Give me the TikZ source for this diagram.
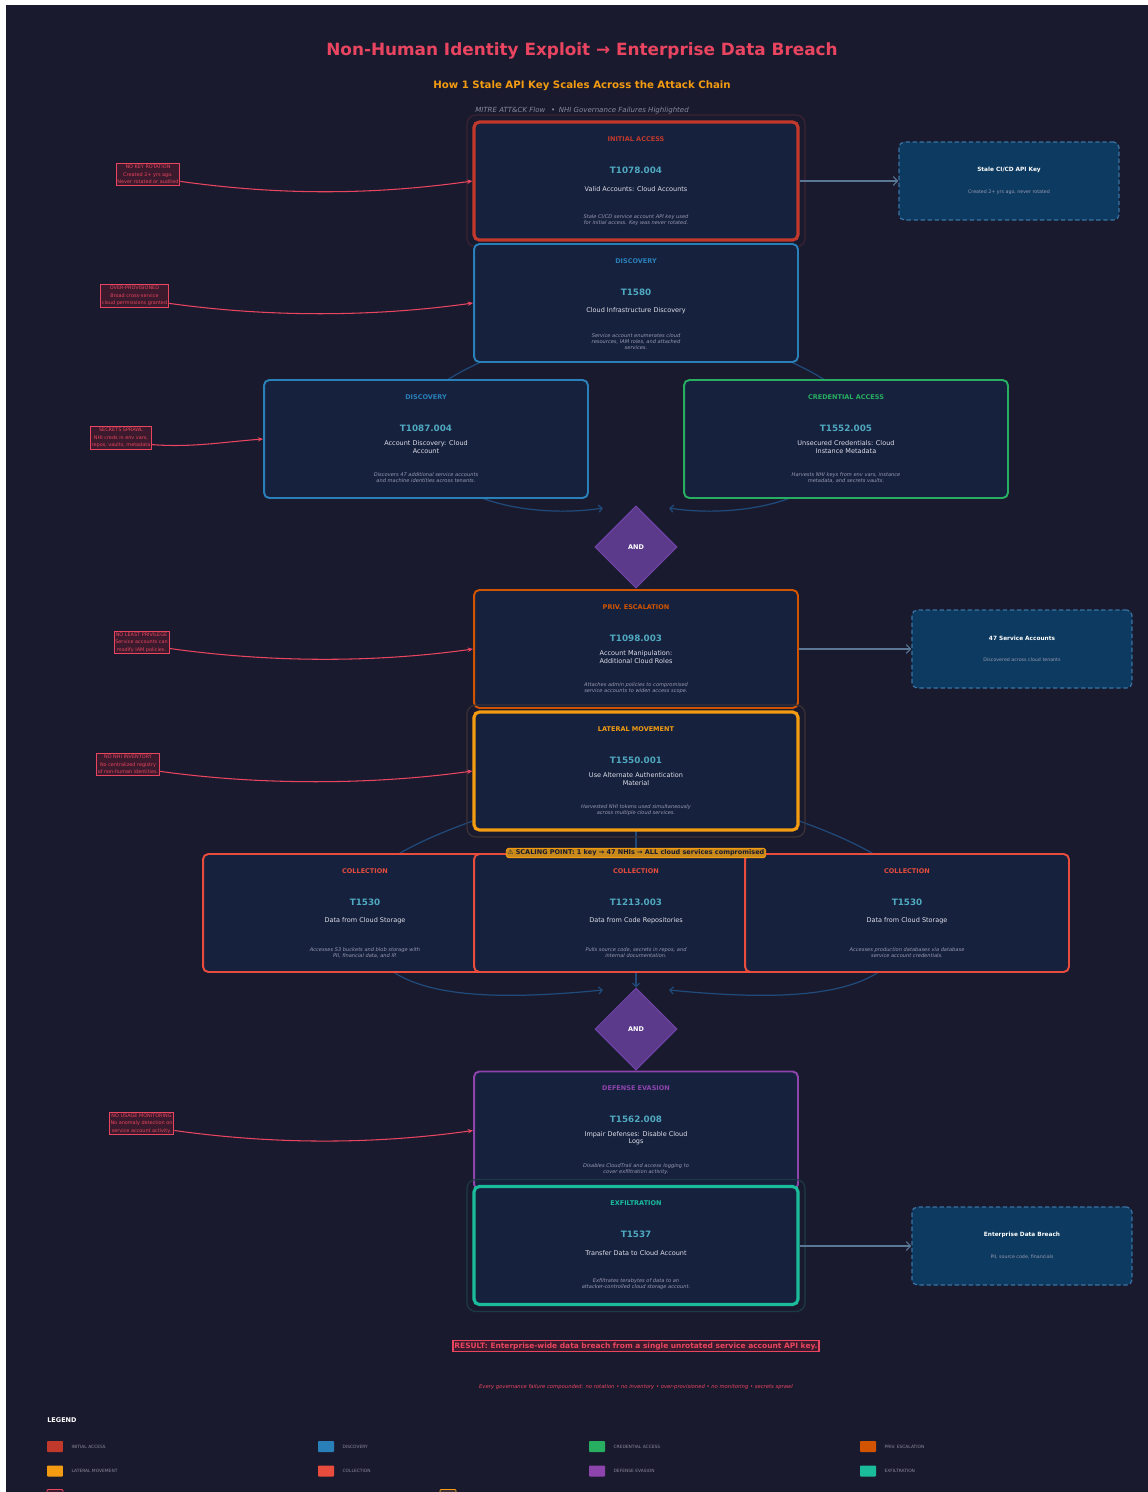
\documentclass[tikz,border=0pt]{standalone}
\usepackage{fontspec}
\setmainfont{DejaVu Sans}
\usepackage{tikz}
\usetikzlibrary{positioning, arrows.meta, shapes.geometric}
\pgfdeclarelayer{background}
\pgfsetlayers{background,main}
\definecolor{pagebg}{HTML}{1A1A2E}
\definecolor{cardbg}{HTML}{16213E}
\definecolor{hotpink}{HTML}{E94560}
\definecolor{amber}{HTML}{F39C12}
\definecolor{tacinit}{HTML}{C0392B}
\definecolor{tacdisc}{HTML}{2980B9}
\definecolor{taccred}{HTML}{27AE60}
\definecolor{tacpriv}{HTML}{D35400}
\definecolor{taclat}{HTML}{F39C12}
\definecolor{taccoll}{HTML}{E74C3C}
\definecolor{tacdef}{HTML}{8E44AD}
\definecolor{tacexf}{HTML}{1ABC9C}
\definecolor{techid}{HTML}{4FA8BF}
\definecolor{techname}{HTML}{E0E0E8}
\definecolor{techdesc}{HTML}{9A9AB0}
\definecolor{assetfill}{HTML}{0C3A60}
\definecolor{assetline}{HTML}{3A73A3}
\definecolor{flawfill}{HTML}{3A1A2C}
\definecolor{flowblue}{HTML}{1F4A7A}
\definecolor{andfill}{HTML}{5B3A8C}
\definecolor{andline}{HTML}{6E44A6}
\definecolor{sidearrow}{HTML}{5A7896}
\definecolor{legendgray}{HTML}{8A8A9A}
\definecolor{metagray}{HTML}{8A8AA0}
\definecolor{halored}{HTML}{3B2233}
\definecolor{halogold}{HTML}{3A3236}
\definecolor{haloteal}{HTML}{1D3B44}
\definecolor{badgefill}{HTML}{C98A1C}

\begin{document}
\begin{tikzpicture}[x=0.02cm, y=-0.02cm,
    stage/.style={draw, rounded corners=3pt, fill=cardbg, line width=1.1pt,
                  minimum width=6.48cm, minimum height=2.36cm},
    keystage/.style={stage, line width=1.8pt},
    halo/.style={draw, rounded corners=5pt, line width=0.7pt,
                 minimum width=6.76cm, minimum height=2.64cm},
    tactic/.style={font=\fontsize{3.7}{4.4}\selectfont\bfseries, inner sep=0pt},
    idtext/.style={font=\fontsize{5}{6}\selectfont\bfseries, text=techid, inner sep=0pt},
    nametext/.style={font=\fontsize{3.7}{4.1}\selectfont, text=techname, align=center, inner sep=0pt},
    desctext/.style={font=\fontsize{2.9}{3.4}\selectfont\itshape, text=techdesc, align=center, inner sep=0pt},
    asset/.style={draw=assetline, dash pattern=on 2.5pt off 1.5pt, fill=assetfill, rounded corners=3pt,
                  line width=0.7pt, minimum width=4.4cm, minimum height=1.56cm},
    assettitle/.style={font=\fontsize{3.3}{4}\selectfont\bfseries, text=white, inner sep=0pt},
    assetnote/.style={font=\fontsize{2.7}{3.2}\selectfont, text=techdesc, inner sep=0pt},
    flaw/.style={draw=hotpink, fill=flawfill, text=hotpink, line width=0.5pt, align=center,
                 font=\fontsize{2.8}{4.2}\selectfont, inner sep=0.8pt},
    flawlink/.style={draw=hotpink, line width=0.6pt, -{Stealth[length=3pt, width=2.5pt]}},
    flow/.style={draw=flowblue, line width=0.7pt, -{Straight Barb[length=2pt]}},
    feed/.style={draw=sidearrow, line width=0.6pt, -{Straight Barb[length=2.5pt]}},
    andgate/.style={diamond, draw=andline, fill=andfill, line width=0.6pt, minimum width=1.64cm,
                    minimum height=1.64cm, inner sep=0pt, text=white, font=\fontsize{3.7}{4.4}\selectfont\bfseries},
    swatch/.style={minimum width=0.32cm, minimum height=0.22cm, inner sep=0pt, rounded corners=0.5pt},
    legtext/.style={font=\fontsize{2.5}{3}\selectfont, text=legendgray, inner sep=0pt}
  ]
  \useasboundingbox (0,0) rectangle (1148,1492);
  \begin{pgfonlayer}{background}
    \fill[white] (0,0) rectangle (1148,1492);
    \fill[pagebg] (6,5) rectangle (1148,1492);
  \end{pgfonlayer}

  % header
  \node[font=\fontsize{9.6}{11}\selectfont\bfseries, text=hotpink] (title) at (582,51)
    {Non-Human Identity Exploit → Enterprise Data Breach};
  \node[font=\fontsize{5.8}{7}\selectfont\bfseries, text=amber] (subtitle) at (582,86)
    {How 1 Stale API Key Scales Across the Attack Chain};
  \node[font=\fontsize{4}{5}\selectfont\itshape, text=metagray] (meta) at (582,111)
    {MITRE ATT\&CK Flow \enspace•\enspace NHI Governance Failures Highlighted};

  % initial access
  \node[halo, draw=halored] (ia-halo) at (636,181) {};
  \node[keystage, draw=tacinit] (ia) at (636,181) {};
  \node[tactic, text=tacinit] (ia-tac) at (636,139) {INITIAL ACCESS};
  \node[idtext] (ia-id) at (636,170) {T1078.004};
  \node[nametext] (ia-name) at (636,189) {Valid Accounts: Cloud Accounts};
  \node[desctext] (ia-desc) at (636,220) {Stale CI/CD service account API key used\\for initial access. Key was never rotated.};

  % discovery 1
  \node[stage, draw=tacdisc] (disc1) at (636,303) {};
  \node[tactic, text=tacdisc] (disc1-tac) at (636,261) {DISCOVERY};
  \node[idtext] (disc1-id) at (636,292) {T1580};
  \node[nametext] (disc1-name) at (636,311) {Cloud Infrastructure Discovery};
  \node[desctext] (disc1-desc) at (636,342) {Service account enumerates cloud\\resources, IAM roles, and attached\\services.};

  % discovery 2 + credential access
  \node[stage, draw=tacdisc] (disc2) at (426,439) {};
  \node[tactic, text=tacdisc] (disc2-tac) at (426,397) {DISCOVERY};
  \node[idtext] (disc2-id) at (426,428) {T1087.004};
  \node[nametext] (disc2-name) at (426,447) {Account Discovery: Cloud\\Account};
  \node[desctext] (disc2-desc) at (426,478) {Discovers 47 additional service accounts\\and machine identities across tenants.};

  \node[stage, draw=taccred] (cred) at (846,439) {};
  \node[tactic, text=taccred] (cred-tac) at (846,397) {CREDENTIAL ACCESS};
  \node[idtext] (cred-id) at (846,428) {T1552.005};
  \node[nametext] (cred-name) at (846,447) {Unsecured Credentials: Cloud\\Instance Metadata};
  \node[desctext] (cred-desc) at (846,478) {Harvests NHI keys from env vars, instance\\metadata, and secrets vaults.};

  \node[andgate] (and1) at (636,547) {AND};
  \coordinate (and1-l) at (603,508);
  \coordinate (and1-r) at (669,508);

  % privilege escalation
  \node[stage, draw=tacpriv] (priv) at (636,649) {};
  \node[tactic, text=tacpriv] (priv-tac) at (636,607) {PRIV. ESCALATION};
  \node[idtext] (priv-id) at (636,638) {T1098.003};
  \node[nametext] (priv-name) at (636,657) {Account Manipulation:\\Additional Cloud Roles};
  \node[desctext] (priv-desc) at (636,688) {Attaches admin policies to compromised\\service accounts to widen access scope.};

  % lateral movement
  \node[halo, draw=halogold] (lat-halo) at (636,771) {};
  \node[keystage, draw=taclat] (lat) at (636,771) {};
  \node[tactic, text=taclat] (lat-tac) at (636,729) {LATERAL MOVEMENT};
  \node[idtext] (lat-id) at (636,760) {T1550.001};
  \node[nametext] (lat-name) at (636,779) {Use Alternate Authentication\\Material};
  \node[desctext] (lat-desc) at (636,810) {Harvested NHI tokens used simultaneously\\across multiple cloud services.};

  % collection
  \node[stage, draw=taccoll] (coll1) at (365,913) {};
  \node[tactic, text=taccoll] (coll1-tac) at (365,871) {COLLECTION};
  \node[idtext] (coll1-id) at (365,902) {T1530};
  \node[nametext] (coll1-name) at (365,921) {Data from Cloud Storage};
  \node[desctext] (coll1-desc) at (365,953) {Accesses S3 buckets and blob storage with\\PII, financial data, and IP.};

  \node[stage, draw=taccoll] (coll2) at (636,913) {};
  \node[tactic, text=taccoll] (coll2-tac) at (636,871) {COLLECTION};
  \node[idtext] (coll2-id) at (636,902) {T1213.003};
  \node[nametext] (coll2-name) at (636,921) {Data from Code Repositories};
  \node[desctext] (coll2-desc) at (636,953) {Pulls source code, secrets in repos, and\\internal documentation.};

  \node[stage, draw=taccoll] (coll3) at (907,913) {};
  \node[tactic, text=taccoll] (coll3-tac) at (907,871) {COLLECTION};
  \node[idtext] (coll3-id) at (907,902) {T1530};
  \node[nametext] (coll3-name) at (907,921) {Data from Cloud Storage};
  \node[desctext] (coll3-desc) at (907,953) {Accesses production databases via database\\service account credentials.};

  \node[draw=amber, fill=badgefill, text=pagebg, line width=0.5pt, rounded corners=1pt, inner sep=0.8pt,
        font=\fontsize{3.7}{4.4}\selectfont\bfseries] (scaling) at (636,853)
    {{\mdseries ⚠} SCALING POINT: 1 key → 47 NHIs → ALL cloud services compromised};

  \node[andgate] (and2) at (636,1029) {AND};
  \coordinate (and2-l) at (603,990);
  \coordinate (and2-r) at (669,990);

  % defense evasion
  \node[stage, draw=tacdef] (def) at (636,1130.5) {};
  \node[tactic, text=tacdef] (def-tac) at (636,1088) {DEFENSE EVASION};
  \node[idtext] (def-id) at (636,1119) {T1562.008};
  \node[nametext] (def-name) at (636,1138) {Impair Defenses: Disable Cloud\\Logs};
  \node[desctext] (def-desc) at (636,1169) {Disables CloudTrail and access logging to\\cover exfiltration activity.};

  % exfiltration
  \node[halo, draw=haloteal] (exf-halo) at (636,1245.5) {};
  \node[keystage, draw=tacexf] (exf) at (636,1245.5) {};
  \node[tactic, text=tacexf] (exf-tac) at (636,1203) {EXFILTRATION};
  \node[idtext] (exf-id) at (636,1234) {T1537};
  \node[nametext] (exf-name) at (636,1253) {Transfer Data to Cloud Account};
  \node[desctext] (exf-desc) at (636,1284) {Exfiltrates terabytes of data to an\\attacker-controlled cloud storage account.};

  % assets on the right
  \node[asset] (key) at (1009,181) {};
  \node[assettitle] (key-title) at (1009,170) {Stale CI/CD API Key};
  \node[assetnote] (key-note) at (1009,192) {Created 2+ yrs ago, never rotated};
  \node[asset] (accts) at (1022,649) {};
  \node[assettitle] (accts-title) at (1022,638) {47 Service Accounts};
  \node[assetnote] (accts-note) at (1022,660) {Discovered across cloud tenants};
  \node[asset] (breach) at (1022,1246) {};
  \node[assettitle] (breach-title) at (1022,1235) {Enterprise Data Breach};
  \node[assetnote] (breach-note) at (1022,1257) {PII, source code, financials};

  \draw[feed] (ia) -- (key);
  \draw[feed] (priv) -- (accts);
  \draw[feed] (exf.east |- breach.west) -- (breach);

  % governance failures
  \node[flaw] (f-rot) at (148,174.5) {NO KEY ROTATION\\Created 2+ yrs ago.\\Never rotated or audited};
  \node[flaw] (f-prov) at (134.5,296) {OVER-PROVISIONED\\Broad cross-service\\cloud permissions granted};
  \node[flaw] (f-sprawl) at (121,438) {SECRETS SPRAWL\\NHI creds in env vars,\\repos, vaults, metadata};
  \node[flaw] (f-priv) at (141.5,642.5) {NO LEAST PRIVILEGE\\Service accounts can\\modify IAM policies.};
  \node[flaw] (f-inv) at (128,764.5) {NO NHI INVENTORY\\No centralized registry\\of non-human identities.};
  \node[flaw] (f-mon) at (141.5,1123.5) {NO USAGE MONITORING\\No anomaly detection on\\service account activity.};

  \draw[flawlink] (f-rot.-12) .. controls +(100,14) and +(-100,14) .. (ia.west);
  \draw[flawlink] (f-prov.-12) .. controls +(100,14) and +(-100,14) .. (disc1.west);
  \draw[flawlink] (f-sprawl.-12) .. controls +(40,3) and +(-40,3) .. (disc2.west);
  \draw[flawlink] (f-priv.-12) .. controls +(100,14) and +(-100,14) .. (priv.west);
  \draw[flawlink] (f-inv.-12) .. controls +(100,14) and +(-100,14) .. (lat.west);
  \draw[flawlink] (f-mon.-12) .. controls +(100,14) and +(-100,14) .. (def.west);

  % attack flow behind the cards
  \begin{pgfonlayer}{background}
    \draw[flow] (disc1.center) .. controls (545,340) and (380,380) .. (disc2.center);
    \draw[flow] (disc1.center) .. controls (727,340) and (892,380) .. (cred.center);
    \draw[flow] (disc2.center) .. controls (435,505) and (540,518) .. (and1-l);
    \draw[flow] (cred.center) .. controls (837,505) and (732,518) .. (and1-r);
    \draw[flow] (lat.center) .. controls (540,800) and (330,850) .. (coll1.center);
    \draw[flow] (lat.center) -- (coll2.center);
    \draw[flow] (lat.center) .. controls (732,800) and (942,850) .. (coll3.center);
    \draw[flow] (coll1.center) .. controls (360,1000) and (480,1002) .. (and2-l);
    \draw[flow] (coll2.center) -- (and2.north);
    \draw[flow] (coll3.center) .. controls (912,1000) and (792,1002) .. (and2-r);
  \end{pgfonlayer}

  % result
  \node[draw=hotpink, fill=flawfill, text=hotpink, line width=0.6pt, inner sep=0.8pt,
        font=\fontsize{4.25}{5}\selectfont\bfseries] (result) at (636,1346)
    {RESULT: Enterprise-wide data breach from a single unrotated service account API key.};
  \node[text=hotpink, font=\fontsize{3}{4}\selectfont\itshape] (moral) at (636,1387)
    {Every governance failure compounded: no rotation • no inventory • over-provisioned • no monitoring • secrets sprawl};

  % legend
  \node[anchor=west, text=white, font=\fontsize{3.7}{4.4}\selectfont\bfseries, inner sep=0pt] (legend) at (47,1420) {LEGEND};
  \node[swatch, fill=tacinit] (sw-ia) at (55,1446.5) {};
  \node[legtext, right=4.5pt of sw-ia] (lg-ia) {INITIAL ACCESS};
  \node[swatch, fill=tacdisc] (sw-disc) at (326,1446.5) {};
  \node[legtext, right=4.5pt of sw-disc] (lg-disc) {DISCOVERY};
  \node[swatch, fill=taccred] (sw-cred) at (597,1446.5) {};
  \node[legtext, right=4.5pt of sw-cred] (lg-cred) {CREDENTIAL ACCESS};
  \node[swatch, fill=tacpriv] (sw-priv) at (868,1446.5) {};
  \node[legtext, right=4.5pt of sw-priv] (lg-priv) {PRIV. ESCALATION};
  \node[swatch, fill=taclat] (sw-lat) at (55,1471) {};
  \node[legtext, right=4.5pt of sw-lat] (lg-lat) {LATERAL MOVEMENT};
  \node[swatch, fill=taccoll] (sw-coll) at (326,1471) {};
  \node[legtext, right=4.5pt of sw-coll] (lg-coll) {COLLECTION};
  \node[swatch, fill=tacdef] (sw-def) at (597,1471) {};
  \node[legtext, right=4.5pt of sw-def] (lg-def) {DEFENSE EVASION};
  \node[swatch, fill=tacexf] (sw-exf) at (868,1471) {};
  \node[legtext, right=4.5pt of sw-exf] (lg-exf) {EXFILTRATION};
  \begin{scope}
    \clip (0,0) rectangle (1148,1492);
    \node[swatch, draw=hotpink, fill=flawfill, line width=0.5pt] (sw-flaw) at (55,1495) {};
    \node[swatch, draw=amber, fill=halogold, line width=0.5pt] (sw-scale) at (448,1495) {};
  \end{scope}
\end{tikzpicture}
\end{document}
